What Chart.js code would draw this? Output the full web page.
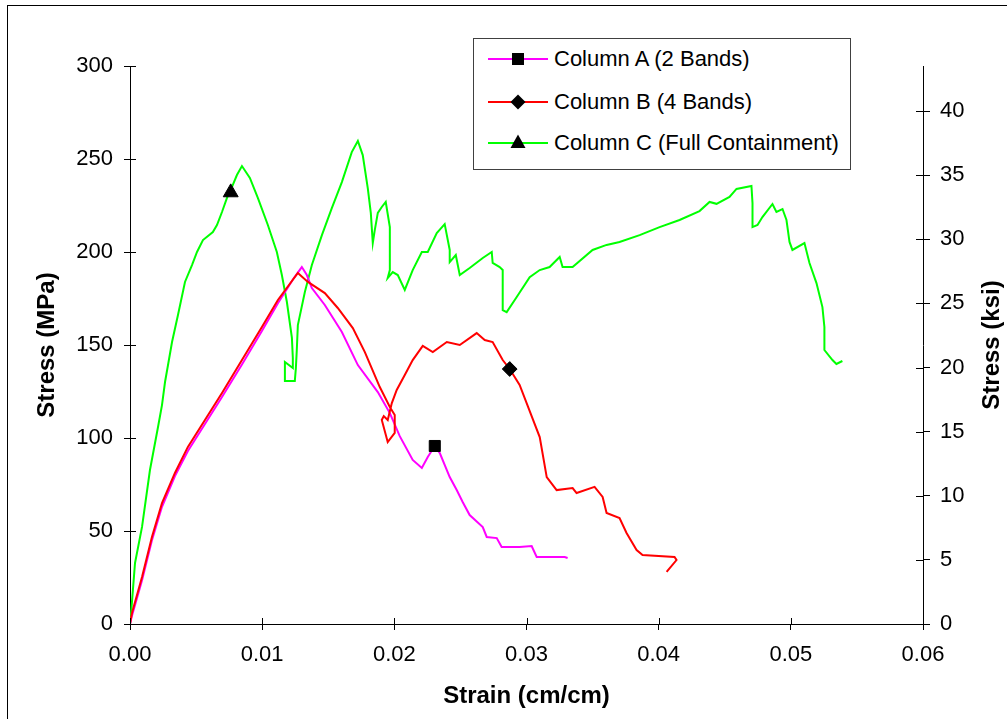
<!DOCTYPE html>
<html>
<head>
<meta charset="utf-8">
<script src="https://cdn.jsdelivr.net/npm/chart.js@4"></script>
<style>
  body { margin: 0; background: #fff; overflow: hidden; }
  #wrap { position: relative; width: 1007px; height: 719px; overflow: hidden; }
  #frame { position: absolute; left: 7px; top: 5px; width: 1100px; height: 800px; border: 1px solid #000; }
  #chart { position: absolute; left: 0; top: 0; }
  #legend { position: absolute; left: 473px; top: 38px; width: 376px; height: 130px;
            border: 1px solid #404040; background: #fff;
            font-family: "Liberation Sans", Arial, sans-serif; font-size: 22px; color: #000; }
  .row { position: absolute; left: 14px; height: 24px; display: flex; align-items: center; }
  .row svg { width: 60px; height: 20px; margin-right: 6px; }
  .row span { white-space: nowrap; }
</style>
</head>
<body>
<div id="wrap">
  <div id="frame"></div>
  <canvas id="chart" width="1007" height="719"></canvas>
  <div id="legend"></div>
</div>
<script>
// --- Datos (deformación cm/cm, esfuerzo MPa) ---
const labels = ['Column A (2 Bands)', 'Column B (4 Bands)', 'Column C (Full Containment)'];
const colors = ['#ff00ff', '#ff0000', '#00ff00'];
const markerStyles = ['rect', 'rectRot', 'triangle'];

const columnA = [
  [0, 0], [0.00015, 4.5], [0.00091, 23.5], [0.00166, 45.0], [0.00242, 63.0], [0.00340, 79.5],
  [0.00438, 93.0], [0.00567, 107.5], [0.00696, 122.0], [0.00847, 139.5], [0.00998, 157.5],
  [0.01119, 172.5], [0.01240, 186.0], [0.01300, 191.9], [0.01338, 187.6], [0.01376, 180.6],
  [0.01474, 171.5], [0.01603, 157.0], [0.01724, 139.2], [0.01875, 124.7], [0.01966, 113.4],
  [0.02041, 101.0], [0.02139, 88.2], [0.02208, 83.9], [0.02253, 89.8], [0.02306, 95.7],
  [0.02344, 91.9], [0.02419, 79.0], [0.02472, 72.0], [0.02517, 65.6], [0.02570, 58.6],
  [0.02669, 52.1], [0.02699, 46.8], [0.02775, 46.2], [0.02812, 41.4], [0.02948, 41.4],
  [0.03039, 41.9], [0.03077, 36.0], [0.03289, 36.0], [0.03311, 35.5]
];

const columnB = [
  [0, 0], [0.00015, 5.9], [0.00091, 25.3], [0.00166, 46.8], [0.00242, 65.0], [0.00340, 81.2],
  [0.00438, 95.2], [0.00567, 109.7], [0.00696, 124.2], [0.00847, 141.9], [0.00998, 159.7],
  [0.01119, 174.2], [0.01270, 188.7], [0.01346, 183.9], [0.01474, 177.9], [0.01572, 169.9],
  [0.01686, 159.1], [0.01777, 146.2], [0.01890, 127.4], [0.01966, 116.7], [0.02003, 112.4],
  [0.02003, 102.7], [0.01950, 97.8], [0.01905, 109.7], [0.01920, 111.8], [0.01950, 109.7],
  [0.01981, 118.8], [0.02018, 125.8], [0.02079, 133.9], [0.02139, 141.9], [0.02215, 149.5],
  [0.02291, 146.2], [0.02397, 151.6], [0.02495, 150.0], [0.02623, 156.4], [0.02684, 152.7],
  [0.02744, 151.6], [0.02820, 141.9], [0.02873, 137.1], [0.02948, 128.5], [0.03100, 100.5],
  [0.03153, 79.0], [0.03228, 72.0], [0.03349, 73.1], [0.03379, 70.4], [0.03515, 73.7],
  [0.03576, 68.3], [0.03606, 59.7], [0.03704, 57.0], [0.03757, 48.9], [0.03833, 39.8],
  [0.03878, 37.1], [0.04120, 36.0], [0.04135, 34.4], [0.04060, 28.0]
];

const columnC = [
  [0, 0], [0.0001, 7.5], [0.00038, 32.8], [0.00091, 52.2], [0.00151, 82.8], [0.00212, 105.9],
  [0.00242, 117.7], [0.00265, 130.1], [0.00287, 139.0], [0.00318, 151.6], [0.00363, 166.1],
  [0.00416, 183.9], [0.00469, 193.0], [0.00507, 200.0], [0.00552, 206.4], [0.00627, 210.7],
  [0.00658, 214.5], [0.00696, 221.5], [0.00733, 229.0], [0.00771, 234.9], [0.00809, 241.4],
  [0.00847, 246.2], [0.00907, 239.8], [0.00968, 229.0], [0.01043, 214.5], [0.01111, 200.0],
  [0.01149, 187.6], [0.01187, 173.1], [0.01225, 153.8], [0.01232, 143.0], [0.01232, 137.6],
  [0.01172, 140.9], [0.01172, 130.6], [0.01247, 130.6], [0.01255, 137.6], [0.01262, 147.3],
  [0.01270, 160.7], [0.01323, 178.5], [0.01376, 193.0], [0.01452, 209.1], [0.01527, 223.6],
  [0.01603, 237.6], [0.01678, 253.7], [0.01724, 259.7], [0.01761, 252.1], [0.01799, 234.4],
  [0.01822, 221.0], [0.01837, 204.8], [0.01852, 211.8], [0.01875, 221.0], [0.01905, 224.2],
  [0.01935, 226.9], [0.01966, 213.4], [0.01966, 190.3], [0.01950, 186.0], [0.01988, 189.2],
  [0.02026, 187.6], [0.02079, 179.6], [0.02139, 190.3], [0.02208, 200.0], [0.02253, 200.0],
  [0.02321, 210.2], [0.02381, 215.0], [0.02419, 201.1], [0.02419, 194.6], [0.02465, 198.4],
  [0.02495, 187.6], [0.02570, 191.4], [0.02669, 196.8], [0.02737, 200.0], [0.02744, 194.1],
  [0.02797, 191.9], [0.02820, 190.3], [0.02820, 168.8], [0.02850, 167.7], [0.02926, 175.8],
  [0.03024, 186.5], [0.03100, 190.3], [0.03175, 191.9], [0.03251, 197.3], [0.03273, 191.9],
  [0.03349, 191.9], [0.03500, 201.1], [0.03606, 203.8], [0.03704, 205.4], [0.03856, 209.1],
  [0.04007, 213.4], [0.04158, 217.2], [0.04309, 222.0], [0.04385, 226.9], [0.04438, 225.9],
  [0.04536, 229.6], [0.04589, 233.9], [0.04702, 235.5], [0.04710, 226.3], [0.04710, 213.4],
  [0.04748, 214.5], [0.04785, 218.8], [0.04861, 225.8], [0.04891, 221.5], [0.04937, 223.1],
  [0.04967, 217.2], [0.04990, 205.4], [0.05012, 201.1], [0.05103, 204.8], [0.05141, 194.1],
  [0.05194, 183.3], [0.05239, 170.4], [0.05254, 159.7], [0.05254, 147.3], [0.05315, 141.9],
  [0.05345, 139.8], [0.05390, 141.4]
];

// Un marcador por serie (como en la hoja de Excel)
const markerStrain = [0.02306, 0.02873, 0.00762];
const markerStress = [95.7, 137.1, 232.0];

// Ejes
const strainTicks = { min: 0, max: 0.06, step: 0.01 };
const mpaTicks = { min: 0, max: 300, step: 50 };
const ksiTicks = { min: 0, max: 43.51, step: 5 };

const FONT = '"Liberation Sans", Arial, sans-serif';
Chart.defaults.font.family = FONT;
Chart.defaults.color = '#000';

const toPoints = arr => arr.map(p => ({ x: p[0], y: p[1] }));

/**
 * Marcas de los ejes que cruzan hacia el interior del área.
 */
const innerTicks = {
  id: 'innerTicks',
  afterDraw(chart) {
    const { ctx, chartArea, scales } = chart;
    ctx.save();
    ctx.strokeStyle = '#000';
    ctx.lineWidth = 1;
    ctx.beginPath();
    scales.x.ticks.forEach(t => {
      const px = Math.round(scales.x.getPixelForValue(t.value)) + 0.5;
      ctx.moveTo(px, chartArea.bottom);
      ctx.lineTo(px, chartArea.bottom - 6);
    });
    scales.y.ticks.forEach(t => {
      const py = Math.round(scales.y.getPixelForValue(t.value)) + 0.5;
      ctx.moveTo(chartArea.left, py);
      ctx.lineTo(chartArea.left + 6, py);
    });
    scales.y2.ticks.forEach(t => {
      const py = Math.round(scales.y2.getPixelForValue(t.value)) + 0.5;
      ctx.moveTo(chartArea.right, py);
      ctx.lineTo(chartArea.right - 7, py);
    });
    ctx.stroke();
    // Título del eje derecho, leído de abajo hacia arriba
    ctx.font = 'bold 24px ' + FONT;
    ctx.fillStyle = '#000';
    ctx.textAlign = 'center';
    ctx.textBaseline = 'middle';
    ctx.translate(992, (chartArea.top + chartArea.bottom) / 2);
    ctx.rotate(-Math.PI / 2);
    ctx.fillText('Stress (ksi)', 0, 0);
    ctx.restore();
  }
};

const series = [columnA, columnB, columnC];
const lineOrder = [2, 1, 3]; // rojo encima del magenta

const datasets = [];
series.forEach((s, i) => {
  datasets.push({
    label: labels[i] + ' marker',
    data: [{ x: markerStrain[i], y: markerStress[i] }],
    showLine: false,
    pointStyle: markerStyles[i],
    pointRadius: [7.8, 7.4, 8.6][i],
    pointBackgroundColor: '#000',
    pointBorderColor: '#000',
    pointBorderWidth: 1,
    order: 0
  });
});
series.forEach((s, i) => {
  datasets.push({
    label: labels[i],
    data: toPoints(s),
    showLine: true,
    borderColor: colors[i],
    borderWidth: 2,
    pointRadius: 0,
    tension: 0,
    order: lineOrder[i]
  });
});

const scaleFont = { size: 22 };

new Chart(document.getElementById('chart'), {
  type: 'scatter',
  data: { datasets },
  options: {
    responsive: false,
    animation: false,
    layout: { padding: { top: 66, left: 0, right: 0, bottom: 0 } },
    plugins: { legend: { display: false }, tooltip: { enabled: false } },
    scales: {
      x: {
        type: 'linear',
        min: strainTicks.min, max: strainTicks.max,
        ticks: { stepSize: strainTicks.step, font: scaleFont, padding: 12,
                 callback: v => v.toFixed(2) },
        grid: { drawOnChartArea: false, tickLength: 6, color: '#000' },
        border: { color: '#000' },
        title: { display: true, text: 'Strain (cm/cm)', font: { size: 24, weight: 'bold' },
                 padding: { top: 0, bottom: 8 } },
        afterFit: s => { s.height = 95; }
      },
      y: {
        type: 'linear', position: 'left',
        min: mpaTicks.min, max: mpaTicks.max,
        ticks: { stepSize: mpaTicks.step, font: scaleFont, padding: 11 },
        grid: { drawOnChartArea: false, tickLength: 6, color: '#000' },
        border: { color: '#000' },
        title: { display: true, text: 'Stress (MPa)', font: { size: 24, weight: 'bold' },
                 padding: { top: 33, bottom: 0 } },
        afterFit: s => { s.width = 130; }
      },
      y2: {
        type: 'linear', position: 'right',
        min: ksiTicks.min, max: ksiTicks.max,
        ticks: { stepSize: ksiTicks.step, font: scaleFont, padding: 10, includeBounds: false },
        grid: { drawOnChartArea: false, tickLength: 7, color: '#000' },
        border: { color: '#000' },
        afterFit: s => { s.width = 84; }
      }
    }
  },
  plugins: [innerTicks]
});

// --- Leyenda en HTML ---
const legendRows = [20, 63, 104];
const markerSvg = [
  '<rect x="24" y="4" width="12" height="12" fill="#000"/>',
  '<polygon points="30,2.5 37.5,10 30,17.5 22.5,10" fill="#000"/>',
  '<polygon points="30,1.5 37.5,15 22.5,15" fill="#000"/>'
];
document.getElementById('legend').innerHTML = labels.map((l, i) => `
  <div class="row" style="top:${legendRows[i] - 12}px">
    <svg viewBox="0 0 60 20"><line x1="0" y1="10" x2="60" y2="10" stroke="${colors[i]}" stroke-width="2"/>${markerSvg[i]}</svg>
    <span>${l}</span>
  </div>`).join('');
</script>
</body>
</html>
